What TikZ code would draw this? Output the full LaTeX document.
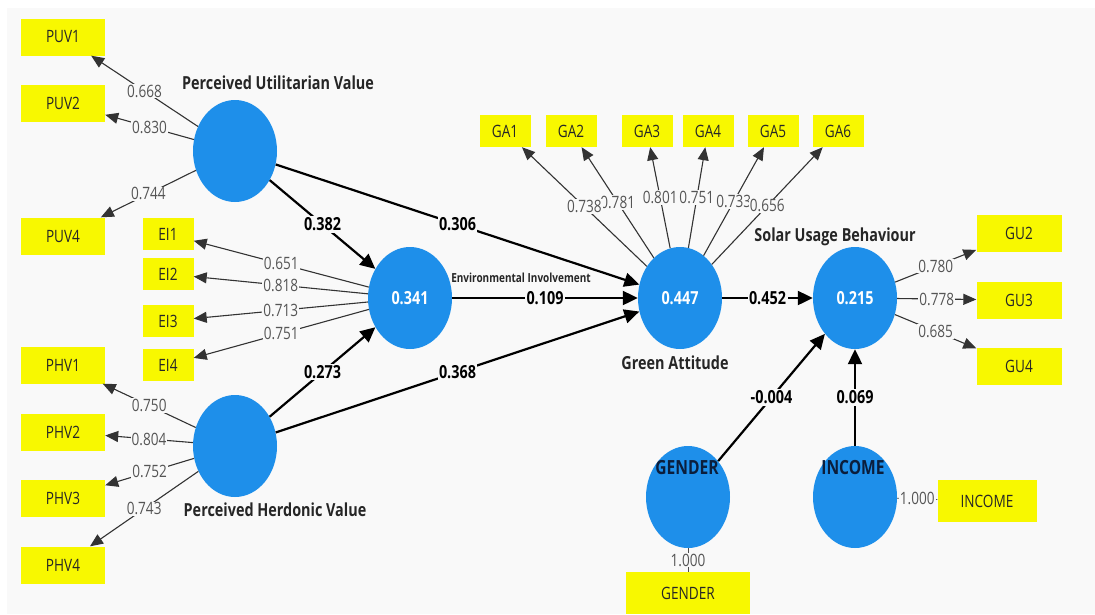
\documentclass[tikz,border=0pt]{standalone}
\usepackage{fontspec}
\newfontfamily\seg[FakeStretch=0.8]{Open Sans}
\usetikzlibrary{arrows.meta,shapes.geometric}
\definecolor{bg}{HTML}{F9F9F9}
\definecolor{lv}{HTML}{1E8FEA}
\definecolor{ind}{HTML}{F8F800}
\definecolor{ldg}{HTML}{555555}
\definecolor{navy}{HTML}{0B1E3C}
\begin{document}
\begin{tikzpicture}[x=1pt,y=-1pt,
  latent/.style={ellipse, fill=lv, minimum width=84pt, minimum height=102pt, inner sep=0pt, text=white, font=\seg\bfseries\fontsize{18}{18}\selectfont},
  indic/.style={fill=ind, minimum width=84pt, minimum height=37pt, inner sep=0pt, text=black!85, font=\seg\fontsize{17}{17}\selectfont},
  smallind/.style={indic, minimum width=51pt, minimum height=32pt},
  load/.style={draw=black!80, line width=1.1pt, -{Triangle[length=13pt,width=11pt]}},
  plain/.style={draw=black!70, line width=0.8pt},
  lbl/.style={fill=bg, inner sep=1pt, text=ldg, font=\seg\fontsize{17}{17}\selectfont},
  pth/.style={draw=black, line width=2.2pt, -{Triangle[length=15pt,width=14pt]}},
  coef/.style={fill=bg, inner sep=1.5pt, text=black, font=\seg\bfseries\fontsize{18}{18}\selectfont},
  title/.style={text=black!85, font=\seg\bfseries\fontsize{18}{18}\selectfont},
  smalltitle/.style={text=black!85, font=\seg\bfseries\fontsize{12.5}{12.5}\selectfont},
  ltitle/.style={text=navy, font=\seg\bfseries\fontsize{19.5}{19.5}\selectfont}
]
\useasboundingbox (0,0) rectangle (1095,614);
\fill[bg] (7,8) rectangle (1095,614);

% latent variables
\node[latent] (puv) at (235,151) {};
\node[latent] (phv) at (235,446) {};
\node[latent] (ei) at (410,298) {0.341};
\node[latent] (ga) at (680,298) {0.447};
\node[latent] (sub) at (855,298) {0.215};
\node[latent] (gen) at (688,497) {};
\node[latent] (inc) at (855,497) {};

% indicators
\node[indic] (puv1) at (63,37) {PUV1};
\node[indic] (puv2) at (63,103) {PUV2};
\node[indic] (puv4) at (63,236) {PUV4};
\node[smallind] (ei1) at (168,234) {EI1};
\node[smallind] (ei2) at (168,274) {EI2};
\node[smallind] (ei3) at (168,321) {EI3};
\node[smallind] (ei4) at (168,365) {EI4};
\node[indic] (phv1) at (63,365) {PHV1};
\node[indic] (phv2) at (63,432) {PHV2};
\node[indic] (phv3) at (63,498) {PHV3};
\node[indic] (phv4) at (63,565) {PHV4};
\node[smallind] (ga1) at (505,131) {GA1};
\node[smallind] (ga2) at (571,131) {GA2};
\node[smallind] (ga3) at (647,131) {GA3};
\node[smallind] (ga4) at (708,131) {GA4};
\node[smallind] (ga5) at (773,131) {GA5};
\node[smallind] (ga6) at (838,131) {GA6};
\node[indic, minimum width=85pt] (gu2) at (1019,233) {GU2};
\node[indic, minimum width=85pt] (gu3) at (1019,300) {GU3};
\node[indic, minimum width=85pt] (gu4) at (1019,366) {GU4};
\node[indic, minimum width=99pt, minimum height=42pt] (incb) at (987,501) {INCOME};
\node[indic, minimum width=124pt, minimum height=42pt] (genb) at (688,593) {GENDER};

% loadings
\draw[load] (puv) -- node[lbl]{0.668} (puv1);
\draw[load] (puv) -- node[lbl]{0.830} (puv2);
\draw[load] (puv) -- node[lbl]{0.744} (puv4);
\draw[load] (ei) -- node[lbl]{0.651} (ei1);
\draw[load] (ei) -- node[lbl]{0.818} (ei2);
\draw[load] (ei) -- node[lbl]{0.713} (ei3);
\draw[load] (ei) -- node[lbl]{0.751} (ei4);
\draw[load] (phv) -- node[lbl]{0.750} (phv1);
\draw[load] (phv) -- node[lbl]{0.804} (phv2);
\draw[load] (phv) -- node[lbl]{0.752} (phv3);
\draw[load] (phv) -- node[lbl]{0.743} (phv4);
\draw[load] (ga) -- node[lbl]{0.781} (ga2);
\draw[load] (ga) -- node[lbl]{0.738} (ga1);
\draw[load] (ga) -- node[lbl]{0.801} (ga3);
\draw[load] (ga) -- node[lbl]{0.751} (ga4);
\draw[load] (ga) -- node[lbl]{0.733} (ga5);
\draw[load] (ga) -- node[lbl]{0.656} (ga6);
\draw[load] (sub) -- node[lbl]{0.780} (gu2);
\draw[load] (sub) -- node[lbl]{0.778} (gu3);
\draw[load] (sub) -- node[lbl]{0.685} (gu4);
\draw[plain] (inc) -- node[lbl]{1.000} (incb);
\draw[plain] (gen) -- node[lbl]{1.000} (genb);

% structural paths
\draw[pth] (puv) -- node[coef]{0.382} (ei);
\draw[pth] (phv) -- node[coef]{0.273} (ei);
\draw[pth] (puv) -- node[coef]{0.306} (ga);
\draw[pth] (ei) -- node[coef]{0.109} (ga);
\draw[pth] (phv) -- node[coef]{0.368} (ga);
\draw[pth] (ga) -- node[coef]{0.452} (sub);
\draw[pth] (gen) -- node[coef]{-0.004} (sub);
\draw[pth] (inc) -- node[coef]{0.069} (sub);

% titles
\node[title] (tpuv) at (278,83) {Perceived Utilitarian Value};
\node[title] (tphv) at (275,510) {Perceived Herdonic Value};
\node[title] (tga) at (675,363) {Green Attitude};
\node[title] (tsub) at (835,237) {Solar Usage Behaviour};
\node[smalltitle] (tei) at (521,278) {Environmental Involvement};
\node[ltitle] (tgen) at (687,468) {GENDER};
\node[ltitle] (tinc) at (853,468) {INCOME};
\end{tikzpicture}
\end{document}
